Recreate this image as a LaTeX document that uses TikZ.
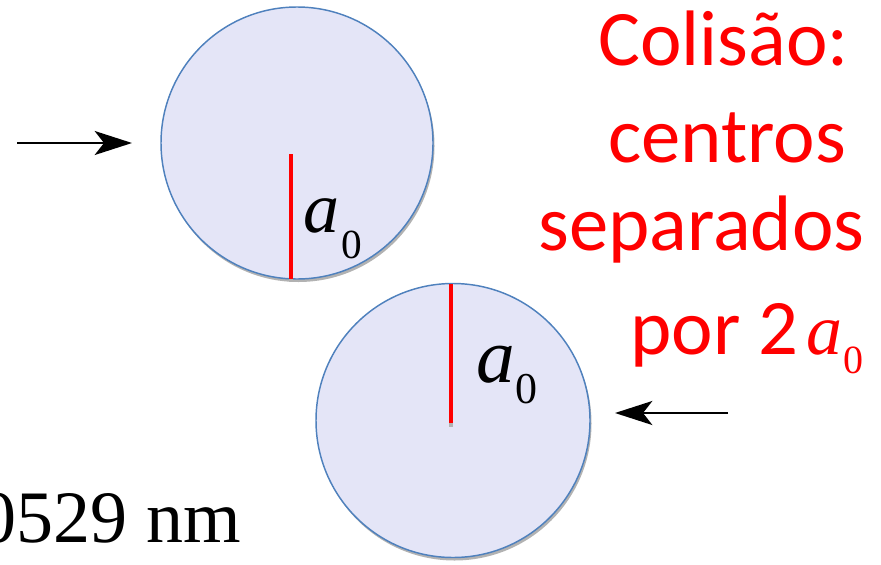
\documentclass[tikz,border=0pt]{standalone}
\usepackage{fontspec}
\setmainfont{Liberation Serif}
\newfontfamily\carl{Carlito}
\usetikzlibrary{arrows.meta}
\definecolor{atomfill}{RGB}{228,229,247}
\definecolor{atomline}{RGB}{79,129,189}
\definecolor{pured}{RGB}{255,0,0}
\tikzset{
  atom/.style={circle,draw=atomline,line width=1.1pt,fill=atomfill,inner sep=0pt},
  atomshadow/.style={circle,fill=black!30,inner sep=0pt},
  radius line/.style={draw=pured,line width=3pt},
  motion/.style={draw=black,line width=1.6pt,-{Stealth[length=28pt,width=18pt,inset=7pt]}},
  lbl/.style={inner sep=0pt,anchor=base west},
}
\begin{document}
\begin{tikzpicture}[x=0.75pt,y=-0.75pt]
\useasboundingbox (0,0) rectangle (881,564);
% shadows
\node[atomshadow,minimum size=204pt] at (298.5,146) {};
\node[atomshadow,minimum size=205.5pt] at (454.5,423.5) {};
% atoms
\node[atom,minimum size=204pt] (c1) at (297,143) {};
\node[atom,minimum size=205.5pt] (c2) at (453,420.5) {};
% radius lines
\coordinate (r1t) at (291,154);
\coordinate (r1b) at (291,279);
\coordinate (r2t) at (451,284);
\coordinate (r2b) at (451,423);
\draw[line width=3pt,black!30] (291,279) -- (291,282);
\draw[line width=3pt,black!30] (451,423) -- (451,427);
\draw[radius line] (r1t) -- (r1b);
\draw[radius line] (r2t) -- (r2b);
% labels a0
\node[lbl,font=\fontsize{54pt}{54pt}\selectfont\itshape] (a1) at (303,232) {a};
\node[lbl,font=\fontsize{31pt}{31pt}\selectfont] (z1) at (341,258) {0};
\node[lbl,font=\fontsize{58pt}{58pt}\selectfont\itshape] (a2) at (476,382) {a};
\node[lbl,font=\fontsize{33pt}{33pt}\selectfont] (z2) at (515,403) {0};
% arrows
\coordinate (p1s) at (17,143);
\coordinate (p1e) at (132,143);
\coordinate (p2s) at (728,413);
\coordinate (p2e) at (615,413);
\draw[motion] (p1s) -- (p1e);
\draw[motion] (p2s) -- (p2e);
% bottom text
\node[inner sep=0pt,anchor=base east,font=\fontsize{55.5pt}{55.5pt}\selectfont] (nm) at (241,542) {0529 nm};
% red text
\begin{scope}[every node/.style={lbl,text=pured,font=\carl\fontsize{59pt}{59pt}\selectfont}]
\node (t1) at (598,65) {Colisão:};
\node (t2) at (608,162) {centros};
\node (t3) at (538,250) {separados};
\node (t4) at (630,354) {por 2};
\end{scope}
\node[lbl,text=pured,font=\fontsize{54pt}{54pt}\selectfont\itshape] (t5) at (806,354) {a};
\node[lbl,text=pured,font=\fontsize{30pt}{30pt}\selectfont] (t6) at (843,373) {0};
\end{tikzpicture}
\end{document}
